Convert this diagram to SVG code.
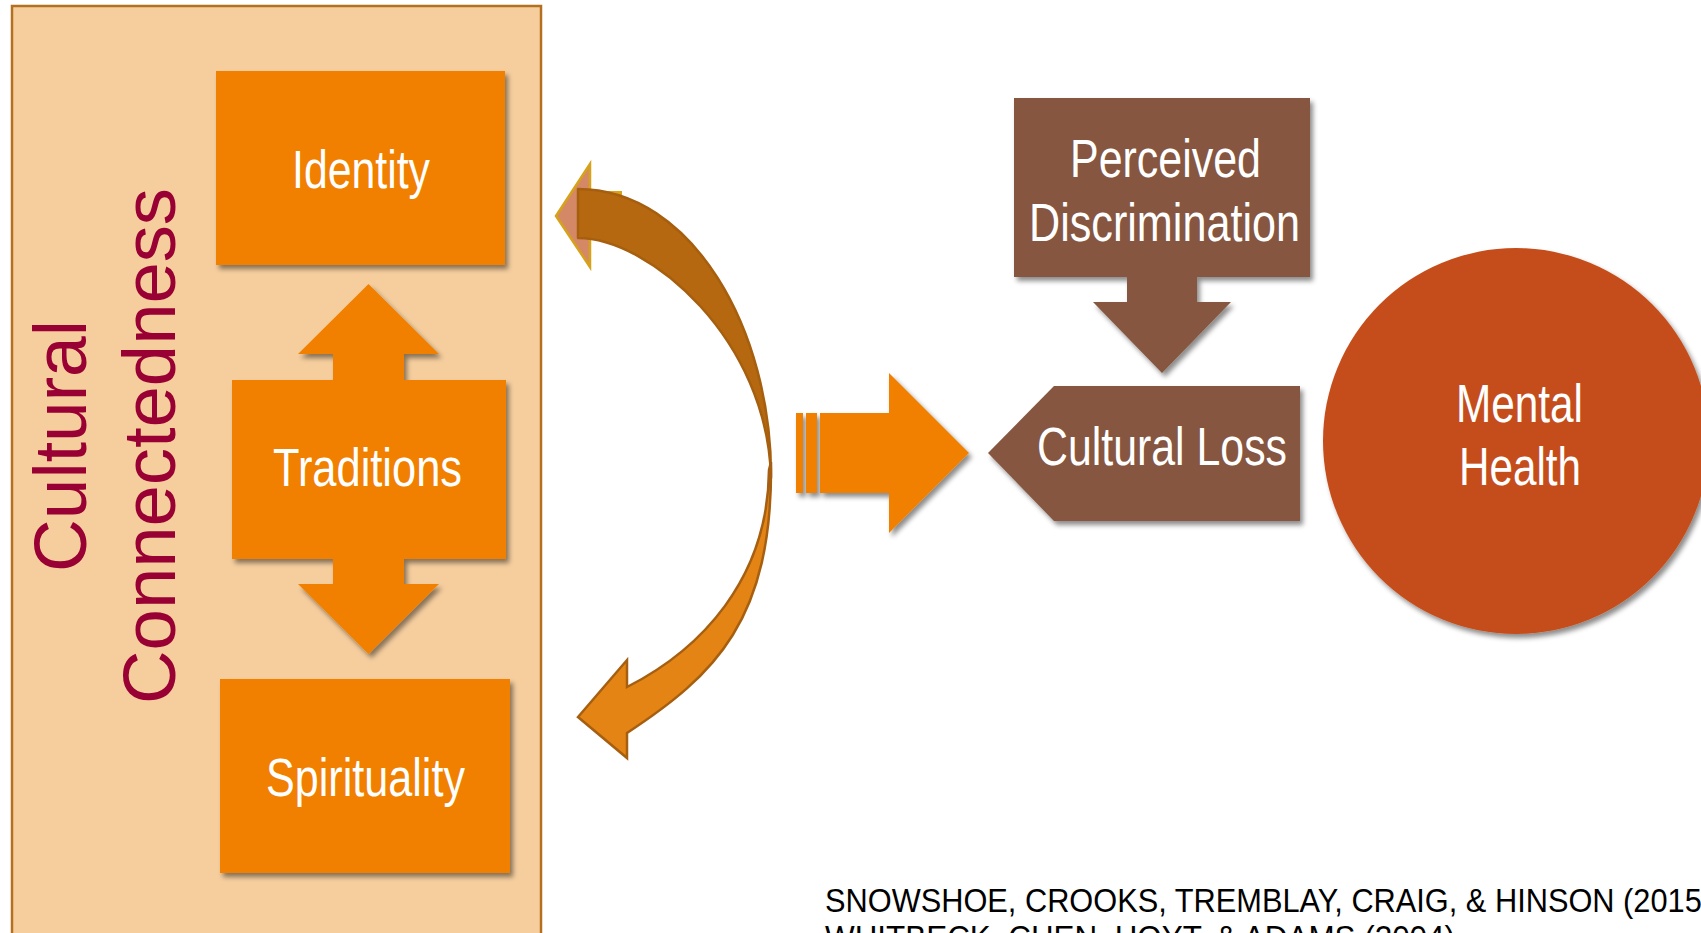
<svg xmlns="http://www.w3.org/2000/svg" width="1701" height="933" viewBox="0 0 1701 933">
  <defs>
    <filter id="sh" x="-10%" y="-10%" width="130%" height="130%">
      <feDropShadow dx="3" dy="4" stdDeviation="2.5" flood-color="#000" flood-opacity="0.45"/>
    </filter>
    <style>
      .lbl { font-family: "Liberation Sans Narrow", "Liberation Sans", Arial, sans-serif; font-size: 53px; fill: #ffffff; text-anchor: middle; }
      .org { fill: #F18000; }
      .brn { fill: #86563F; }
      .vt { font-family: "Liberation Sans", Arial, sans-serif; font-size: 74px; fill: #990033; text-anchor: middle; }
      .cite { font-family: "Liberation Sans Narrow", "Liberation Sans", Arial, sans-serif; font-size: 34px; fill: #000000; }
    </style>
  </defs>
  <rect width="1701" height="933" fill="#ffffff"/>

  <g id="panel">
    <rect x="12" y="6" width="529" height="940" fill="#F6CE9E" stroke="#B3701F" stroke-width="2.5"/>
    <text class="vt" transform="translate(86,446) rotate(-90)" textLength="252" lengthAdjust="spacingAndGlyphs">Cultural</text>
    <text class="vt" transform="translate(175,446) rotate(-90)" textLength="516" lengthAdjust="spacingAndGlyphs">Connectedness</text>
  </g>

  <g id="identity">
    <rect class="org" x="216" y="71" width="289" height="194" filter="url(#sh)"/>
    <text class="lbl" x="361" y="188" textLength="138" lengthAdjust="spacingAndGlyphs">Identity</text>
  </g>

  <g id="traditions">
    <path class="org" filter="url(#sh)" d="M232,380 H333 V354 H298 L368.5,284 L439,354 H404 V380 H506 V559 H404 V584 H439 L368.5,654 L298,584 H333 V559 H232 Z"/>
    <text class="lbl" x="367.5" y="486" textLength="189" lengthAdjust="spacingAndGlyphs">Traditions</text>
  </g>

  <g id="spirituality">
    <rect class="org" x="220" y="679" width="290" height="194" filter="url(#sh)"/>
    <text class="lbl" x="365.5" y="796" textLength="199" lengthAdjust="spacingAndGlyphs">Spirituality</text>
  </g>

  <g id="perceived-discrimination">
    <path class="brn" filter="url(#sh)" d="M1014,98 H1310 V277 H1197 V302 H1231 L1162,373 L1093,302 H1127 V277 H1014 Z"/>
    <text class="lbl" x="1165.5" y="177" textLength="191" lengthAdjust="spacingAndGlyphs">Perceived</text>
    <text class="lbl" x="1164.5" y="241" textLength="271" lengthAdjust="spacingAndGlyphs">Discrimination</text>
  </g>

  <g id="cultural-loss">
    <path class="brn" filter="url(#sh)" d="M988,453 L1054,386 H1300 V521 H1054 Z"/>
    <text class="lbl" x="1162" y="465" textLength="250" lengthAdjust="spacingAndGlyphs">Cultural Loss</text>
  </g>

  <g id="mental-health">
    <circle cx="1516" cy="441" r="193" fill="#C54E1A" filter="url(#sh)"/>
    <text class="lbl" x="1519.5" y="422" textLength="127" lengthAdjust="spacingAndGlyphs">Mental</text>
    <text class="lbl" x="1520" y="485" textLength="122" lengthAdjust="spacingAndGlyphs">Health</text>
  </g>

  <g id="connectors">
    <g id="curved-up">
      <rect x="590" y="191" width="32" height="49" fill="#D9A21B"/>
      <path d="M556,216 L590,164 V267 Z" fill="#D58865" stroke="#D6A21A" stroke-width="2.5" stroke-linejoin="miter"/>
      <path d="M578,189 C692,189 772,330 771,478 C768,340 650,238 578,238 Z" fill="#B5680F" stroke="#A65F0E" stroke-width="2.5" stroke-linejoin="round"/>
    </g>
    <g id="curved-down">
      <path d="M771,462 C773,620 715,675 627,733 V758 L578,717 L627,660 V687 C700,650 768,580 769,470 Z" fill="#E38415" stroke="#A65F10" stroke-width="2.5" stroke-linejoin="miter"/>
    </g>
    <g id="right-arrow" filter="url(#sh)">
      <rect class="org" x="796" y="413" width="7" height="80"/>
      <rect class="org" x="806" y="413" width="11" height="80"/>
      <path class="org" d="M820,413 H889 V373 L969,453 L889,533 V493 H820 Z"/>
    </g>
  </g>

  <g id="citation">
    <text class="cite" x="825" y="912" textLength="887" lengthAdjust="spacingAndGlyphs">SNOWSHOE, CROOKS, TREMBLAY, CRAIG, &amp; HINSON (2015)</text>
    <text class="cite" x="825" y="949" textLength="630" lengthAdjust="spacingAndGlyphs">WHITBECK, CHEN, HOYT, &amp; ADAMS (2004)</text>
  </g>
</svg>
